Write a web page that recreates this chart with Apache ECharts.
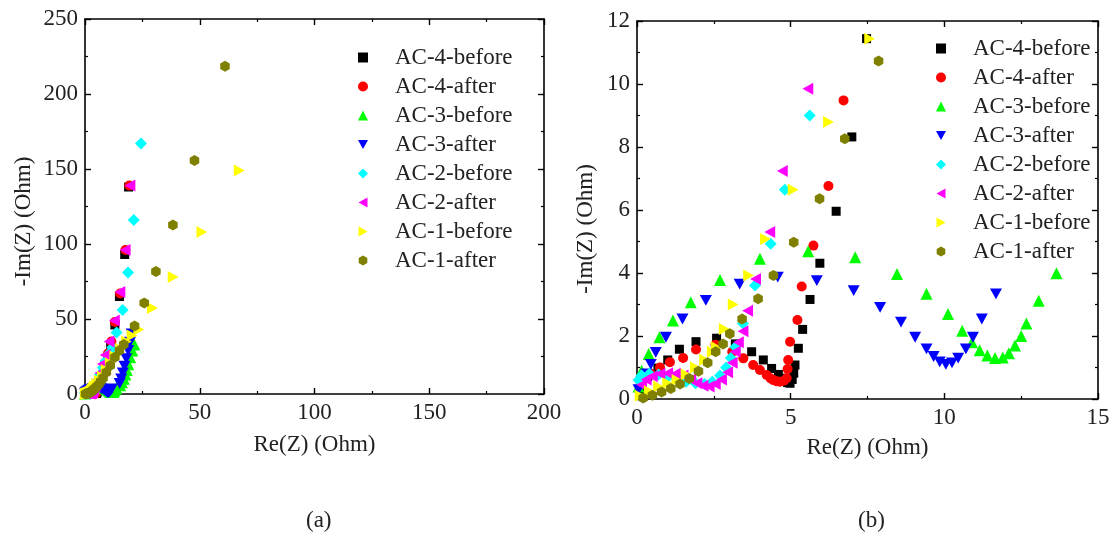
<!DOCTYPE html>
<html>
<head>
<meta charset="utf-8">
<script src="https://cdn.jsdelivr.net/npm/echarts@6/dist/echarts.min.js"></script>
<style>
html,body{margin:0;padding:0;background:#fff;}
#chart{width:1118px;height:544px;}
</style>
</head>
<body>
<div id="chart"></div>
<script>
// ---- data (Re(Z), -Im(Z)) in Ohm ----
var seriesNames = ['AC-4-before','AC-4-after','AC-3-before','AC-3-after','AC-2-before','AC-2-after','AC-1-before','AC-1-after'];

var AC4before = [[0.1,0.3],[0.35,0.72],[0.68,0.98],[1.0,1.24],[1.38,1.58],[1.92,1.82],[2.59,1.93],[3.2,1.75],[3.73,1.5],[4.11,1.24],[4.38,0.97],[4.6,0.78],[4.76,0.66],[4.9,0.52],[4.98,0.5],[5.05,0.62],[5.1,0.82],[5.14,1.08],[5.25,1.61],[5.39,2.21],[5.63,3.16],[5.95,4.31],[6.48,5.96],[6.99,8.32],[7.47,11.44],[8.5,17],[9.8,24],[11.2,33],[13,46],[15,65],[17.3,93],[19,138]];
var AC4after = [[0.15,0.45],[0.45,0.8],[0.75,1.0],[1.07,1.17],[1.5,1.3],[1.92,1.57],[2.55,1.72],[3.1,1.5],[3.46,1.29],[3.78,1.08],[4.0,0.92],[4.22,0.76],[4.35,0.65],[4.44,0.6],[4.55,0.56],[4.65,0.55],[4.78,0.58],[4.87,0.66],[4.9,0.95],[4.92,1.24],[4.98,1.82],[5.22,2.51],[5.36,3.57],[5.74,4.87],[6.23,6.76],[6.72,9.48],[7.6,14],[8.6,20],[10,27],[11.5,35],[13,48],[15.3,67],[17.6,96],[19.3,139]];
var AC3before = [[0.05,0.4],[0.15,0.9],[0.38,1.43],[0.73,1.96],[1.17,2.49],[1.75,3.07],[2.7,3.78],[4.0,4.45],[5.57,4.69],[7.1,4.5],[8.46,3.97],[9.42,3.34],[10.12,2.7],[10.58,2.17],[10.9,1.8],[11.15,1.55],[11.4,1.38],[11.65,1.3],[11.9,1.32],[12.1,1.45],[12.3,1.7],[12.5,2.0],[12.67,2.4],[13.07,3.12],[13.65,3.99],[15.3,5.8],[16.1,7.8],[16.9,10.2],[17.6,13],[18.2,16],[18.9,19.8],[19.7,24.5],[20.6,29],[21.5,33]];
var AC3after = [[0.05,0.3],[0.15,0.55],[0.3,0.8],[0.45,1.1],[0.61,1.48],[0.94,1.96],[1.48,2.54],[2.24,3.13],[3.34,3.65],[4.58,3.87],[5.85,3.76],[7.05,3.44],[7.91,2.91],[8.59,2.44],[9.05,1.96],[9.42,1.59],[9.65,1.35],[9.85,1.18],[10.05,1.1],[10.25,1.15],[10.45,1.3],[10.7,1.59],[10.93,1.96],[11.22,2.54],[11.68,3.34],[15.1,7],[15.8,10],[16.5,14],[17.2,18.5],[18,23.5],[18.8,29],[19.6,34.5],[20.3,40]];
var AC2before = [[0.05,0.6],[0.15,0.75],[0.4,0.8],[0.7,0.78],[1.0,0.7],[1.3,0.62],[1.6,0.55],[1.9,0.5],[2.2,0.48],[2.45,0.55],[2.7,0.75],[2.9,1.0],[3.05,1.3],[3.2,1.65],[3.45,2.4],[3.84,3.6],[4.35,4.93],[4.81,6.64],[5.62,9.0],[6.6,13],[7.8,17.5],[9,22],[10.5,27],[11.9,31],[13.75,41],[16.4,56],[18.75,81],[21.25,116],[24.4,167]];
var AC2after = [[0.15,0.45],[0.3,0.62],[0.5,0.72],[0.75,0.8],[1.0,0.82],[1.25,0.8],[1.5,0.75],[1.75,0.62],[1.95,0.5],[2.15,0.42],[2.35,0.4],[2.55,0.48],[2.75,0.62],[2.95,0.85],[3.1,1.15],[3.2,1.5],[3.3,1.8],[3.45,2.15],[3.6,2.8],[3.86,3.81],[4.32,5.3],[4.73,7.24],[5.56,9.85],[6.5,14],[7.6,20],[8.8,26],[10.5,35],[12.8,49],[15.2,68],[17.5,96],[19.6,139]];
var AC1before = [[0.1,0.1],[0.4,0.25],[0.7,0.4],[1.0,0.5],[1.3,0.6],[1.6,0.78],[1.9,1.0],[2.2,1.25],[2.45,1.5],[2.58,1.64],[2.84,2.22],[3.13,3.0],[3.63,3.92],[4.18,5.08],[5.08,6.64],[6.23,8.79],[7.57,11.44],[9.2,16],[11,20.5],[13,25],[15.5,30],[18,35],[20.5,39],[23.4,43],[29.4,57.4],[38.4,78],[50.9,108],[67.2,149]];
var AC1after = [[0.2,0.03],[0.5,0.12],[0.8,0.22],[1.1,0.33],[1.4,0.48],[1.7,0.65],[2.0,0.88],[2.3,1.15],[2.56,1.5],[2.8,1.75],[3.02,2.07],[3.42,2.54],[3.94,3.18],[4.44,3.92],[5.1,4.98],[5.94,6.36],[6.76,8.26],[7.86,10.73],[9.3,14.5],[11,19],[13,24.5],[15,29],[16.9,33],[21.6,45.3],[25.8,60.7],[30.9,81.7],[38.3,112.6],[47.7,155.6],[61,218.5]];

var allData = [AC4before, AC4after, AC3before, AC3after, AC2before, AC2after, AC1before, AC1after];
var colors = ['#000000','#ff0000','#00ff00','#0000ff','#00ffff','#ff00ff','#ffff00','#808000'];
var symbols = [
  'rect',
  'circle',
  'triangle',
  'path://M0,0 L10,0 L5,9 Z',
  'diamond',
  'path://M9,0 L9,10 L0,5 Z',
  'path://M0,0 L0,10 L9,5 Z',
  'path://M5,0 L9.33,2.5 L9.33,7.5 L5,10 L0.67,7.5 L0.67,2.5 Z'
];
var symSizes = [9,10,12,12,12,12,12,11];

var FONT = 'Liberation Serif';
var FS = 23;
var TXT = '#222';

function axisCommon(extra){
  var a = {
    type:'value',
    axisLine:{show:true,onZero:false,lineStyle:{color:'#000',width:1.6}},
    axisTick:{show:true,inside:true,length:6,lineStyle:{color:'#000',width:1.4}},
    minorTick:{show:true,splitNumber:2,length:3,lineStyle:{color:'#000',width:1.2}},
    splitLine:{show:false},
    axisLabel:{show:true,color:TXT,fontFamily:FONT,fontSize:FS,margin:7},
    nameTextStyle:{color:TXT,fontFamily:FONT,fontSize:FS}
  };
  for (var k in extra) a[k]=extra[k];
  return a;
}

var series = [];
for (var g=0; g<2; g++){
  for (var i=0;i<8;i++){
    series.push({
      type:'scatter',
      name:seriesNames[i],
      xAxisIndex:g*2, yAxisIndex:g*2,
      data:allData[i],
      symbol:symbols[i],
      symbolSize:symSizes[i],
      symbolKeepAspect:true,
      itemStyle:{color:colors[i],opacity:1},
      clip:true,
      silent:true,
      z:2+i
    });
  }
}

var legendCommon = {
  orient:'vertical',
  data:seriesNames,
  itemWidth:10, itemHeight:10,
  itemGap:6,
  padding:0,
  selectedMode:false,
  textStyle:{color:TXT,fontFamily:FONT,fontSize:FS,lineHeight:22,padding:[0,0,0,22]}
};

var option = {
  animation:false,
  backgroundColor:'#fff',
  grid:[
    {left:85,top:19,width:459,height:375},
    {left:637,top:21,width:461,height:378}
  ],
  xAxis:[
    axisCommon({gridIndex:0,min:0,max:200,interval:50,position:'bottom',name:'Re(Z) (Ohm)',nameLocation:'middle',nameGap:39}),
    axisCommon({gridIndex:0,min:0,max:200,interval:50,position:'top',axisLabel:{show:false}}),
    axisCommon({gridIndex:1,min:0,max:15,interval:5,position:'bottom',name:'Re(Z) (Ohm)',nameLocation:'middle',nameGap:37}),
    axisCommon({gridIndex:1,min:0,max:15,interval:5,position:'top',axisLabel:{show:false}})
  ],
  yAxis:[
    axisCommon({gridIndex:0,min:0,max:250,interval:50,position:'left',name:'-Im(Z) (Ohm)',nameLocation:'middle',nameGap:50,
      nameTextStyle:{color:TXT,fontFamily:FONT,fontSize:FS,padding:[0,30,0,0]}}),
    axisCommon({gridIndex:0,min:0,max:250,interval:50,position:'right',axisLabel:{show:false}}),
    axisCommon({gridIndex:1,min:0,max:12,interval:2,position:'left',name:'-Im(Z) (Ohm)',nameLocation:'middle',nameGap:40,
      nameTextStyle:{color:TXT,fontFamily:FONT,fontSize:FS,padding:[0,38,0,0]}}),
    axisCommon({gridIndex:1,min:0,max:12,interval:2,position:'right',axisLabel:{show:false}})
  ],
  legend:[
    Object.assign({left:358,top:46}, legendCommon),
    Object.assign({left:936,top:37}, legendCommon)
  ],
  graphic:[
    {type:'text',left:306,top:509,style:{text:'(a)',fontFamily:FONT,fontSize:FS,fill:TXT}},
    {type:'text',left:858,top:509,style:{text:'(b)',fontFamily:FONT,fontSize:FS,fill:TXT}}
  ],
  series:series
};

var chart = echarts.init(document.getElementById('chart'));
chart.setOption(option);
</script>
</body>
</html>
